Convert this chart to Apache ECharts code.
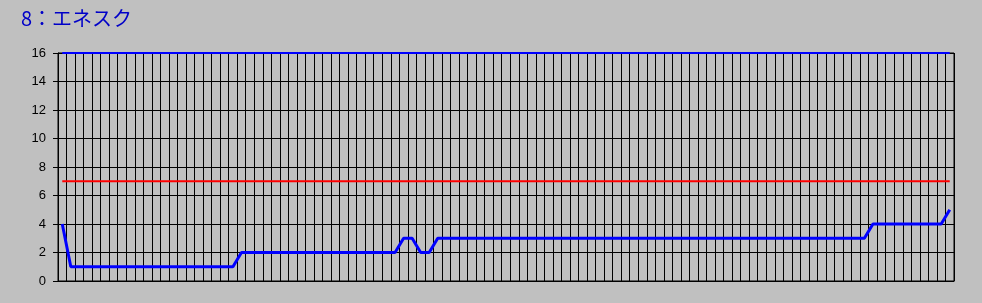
<!DOCTYPE html>
<html>
<head>
<meta charset="utf-8">
<script src="https://cdn.jsdelivr.net/npm/echarts@6/dist/echarts.min.js"></script>
<style>
html,body{margin:0;padding:0;background:#c0c0c0;}
#c{width:982px;height:303px;}
</style>
</head>
<body>
<div id="c"></div>
<script>
const titleText = '8：エネスク';
const values = [
  4,
  1,1,1,1,1,1,1,1,1,1,1,1,1,1,1,1,1,1,1,1,
  2,2,2,2,2,2,2,2,2,2,2,2,2,2,2,2,2,2,2,
  3,3,
  2,2,
  3,3,3,3,3,3,3,3,3,3,3,3,3,3,3,3,3,3,3,3,3,3,3,3,3,3,3,3,3,3,3,3,3,3,3,3,3,3,3,3,3,3,3,3,3,3,3,3,3,3,3,
  4,4,4,4,4,4,4,4,4,
  5
];
const categories = values.map((_, i) => String(i + 1));
const upperLine = [[0, 16], [104, 16]];
const refLine = [[0, 7], [104, 7]];
const yTicks = [0, 2, 4, 6, 8, 10, 12, 14, 16];

const chart = echarts.init(document.getElementById('c'));
chart.setOption({
  animation: false,
  backgroundColor: '#c0c0c0',
  title: {
    text: titleText,
    left: 16, top: 3,
    textStyle: { color: '#0000c8', fontSize: 20, fontWeight: 'normal', fontFamily: 'Noto Sans CJK JP' }
  },
  grid: { left: 58, right: 28, top: 53, bottom: 22, show: true, borderColor: '#000', borderWidth: 1, backgroundColor: 'transparent' },
  xAxis: {
    type: 'category',
    data: categories,
    boundaryGap: true,
    axisLine: { show: true, lineStyle: { color: '#000', width: 1 } },
    axisTick: { show: false },
    axisLabel: { show: false },
    splitLine: { show: true, interval: 0, lineStyle: { color: '#000', width: 1 } }
  },
  yAxis: {
    type: 'value',
    min: yTicks[0], max: yTicks[yTicks.length - 1], interval: 2,
    axisLine: { show: true, lineStyle: { color: '#000', width: 1 } },
    axisTick: { show: true, length: 5, lineStyle: { color: '#000' } },
    axisLabel: { color: '#000', fontSize: 13, fontFamily: 'Liberation Sans', margin: 12 },
    splitLine: { show: true, lineStyle: { color: '#000', width: 1 } }
  },
  series: [
    { type: 'line', data: upperLine, symbol: 'none', lineStyle: { color: '#0000ff', width: 2 }, z: 3 },
    { type: 'line', data: refLine, symbol: 'none', lineStyle: { color: '#ff0000', width: 2 }, z: 3 },
    { type: 'line', data: values, symbol: 'none', lineStyle: { color: '#0000ff', width: 3 }, z: 4 }
  ]
});
</script>
</body>
</html>
